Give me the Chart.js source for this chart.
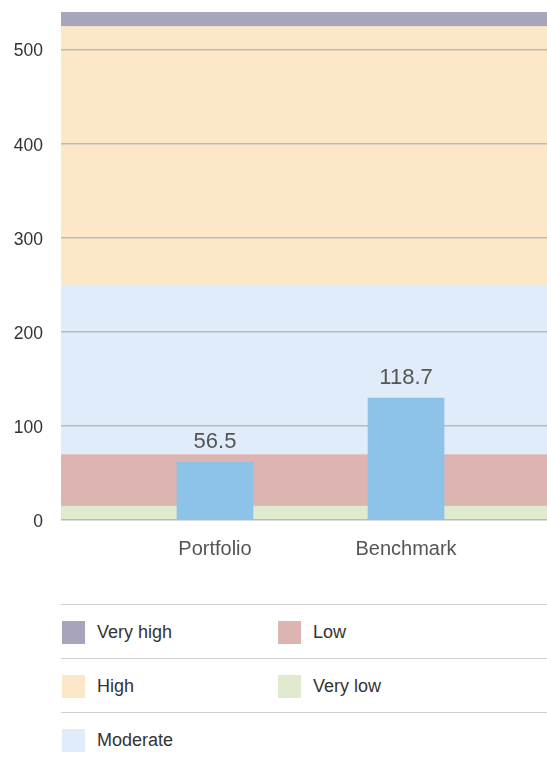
<!DOCTYPE html>
<html>
<head>
<meta charset="utf-8">
<script src="https://cdn.jsdelivr.net/npm/chart.js@4"></script>
<style>
    html, body { margin: 0; padding: 0; background: #fff; }
    body { width: 547px; height: 758px; position: relative; overflow: hidden; font-family: 'Liberation Sans', Arial, sans-serif; }
    #chart { position: absolute; left: 0; top: 0; }
    #legend { position: absolute; left: 61px; top: 604px; width: 486px; }
    .legend-row { height: 54px; border-top: 1.5px solid #cfcfcf; box-sizing: border-box; position: relative; }
    .legend-item { position: absolute; top: 16px; display: flex; align-items: center; height: 23px; font-size: 18px; color: #333; }
    .legend-swatch { width: 23px; height: 23px; margin-right: 12px; }
</style>
</head>
<body>
<canvas id="chart" width="547" height="580"></canvas>
<div id="legend"></div>
<script>
const categories = ['Portfolio', 'Benchmark'];
const scoreValues = [56.5, 118.7];

const bandNames = ['Very low', 'Low', 'Moderate', 'High', 'Very high'];
const bandFrom = [0, 15, 70, 250, 525];
const bandTo = [15, 70, 250, 525, 540];
const bandColors = ['#dfeacf', '#dcb4b2', '#e0ecfa', '#fde7c9', '#a8a4bb'];

const BAR_COLOR = '#8ec3e9';
const GRID_COLOR = '#b9b9b9';

// risk bands sit behind the grid and the bars
const bandPlugin = {
    id: 'riskBands',
    beforeDraw(chart) {
        const { ctx, chartArea, scales } = chart;
        ctx.save();
        bandNames.forEach((name, i) => {
            const top = scales.y.getPixelForValue(bandTo[i]);
            const bottom = scales.y.getPixelForValue(bandFrom[i]);
            ctx.fillStyle = bandColors[i];
            ctx.fillRect(chartArea.left, top, chartArea.right - chartArea.left, bottom - top);
        });
        ctx.restore();
    }
};

const valueLabelPlugin = {
    id: 'valueLabels',
    afterDatasetsDraw(chart) {
        const { ctx } = chart;
        const meta = chart.getDatasetMeta(0);
        ctx.save();
        ctx.font = '22px "Liberation Sans", Arial, sans-serif';
        ctx.fillStyle = '#555';
        ctx.textAlign = 'center';
        ctx.textBaseline = 'alphabetic';
        meta.data.forEach((bar, i) => {
            ctx.fillText(scoreValues[i].toFixed(1), bar.x, bar.y - 14);
        });
        ctx.restore();
    }
};

new Chart(document.getElementById('chart'), {
    type: 'bar',
    data: {
        datasets: [{
            label: 'Score',
            data: categories.map((name, i) => ({ x: i, y: scoreValues[i] })),
            backgroundColor: BAR_COLOR,
            borderWidth: 0,
            barThickness: 76,
            yAxisID: 'yBar'
        }]
    },
    options: {
        responsive: false,
        animation: false,
        events: [],
        layout: { padding: { top: 12, left: 0, right: 0, bottom: 0 } },
        plugins: {
            legend: { display: false },
            tooltip: { enabled: false }
        },
        scales: {
            x: {
                type: 'linear',
                offset: false,
                min: -0.806,
                max: 1.738,
                grid: { display: false, drawTicks: false, offset: false },
                border: { display: false },
                afterBuildTicks: (scale) => {
                    scale.ticks = categories.map((name, i) => ({ value: i }));
                },
                afterFit: (scale) => { scale.height = 60; },
                ticks: {
                    padding: 17,
                    maxRotation: 0,
                    autoSkip: false,
                    color: '#555',
                    font: { family: '"Liberation Sans", Arial, sans-serif', size: 20 },
                    callback: (value) => categories[value] ?? ''
                }
            },
            y: {
                min: 0,
                max: 540,
                grid: { color: GRID_COLOR, lineWidth: 1.5, drawTicks: true, tickLength: 18, tickColor: 'rgba(0,0,0,0)' },
                border: { display: false },
                afterFit: (scale) => { scale.width = 61; },
                ticks: {
                    stepSize: 100,
                    includeBounds: false,
                    padding: 0,
                    labelOffset: 2,
                    color: '#333',
                    font: { family: '"Liberation Sans", Arial, sans-serif', size: 17.5 }
                }
            },
            yBar: {
                display: false,
                min: 0,
                max: 495
            }
        }
    },
    plugins: [bandPlugin, valueLabelPlugin]
});

// legend: bands from highest to lowest, filled column by column
const legendOrder = bandNames.map((name, i) => i).reverse();
const legendRows = 3;
const legendEl = document.getElementById('legend');
for (let r = 0; r < legendRows; r++) {
    const row = document.createElement('div');
    row.className = 'legend-row';
    [legendOrder[r], legendOrder[r + legendRows]].forEach((bandIdx, col) => {
        if (bandIdx === undefined) return;
        const item = document.createElement('div');
        item.className = 'legend-item';
        item.style.left = (col === 0 ? 1 : 217) + 'px';
        item.innerHTML = `<span class="legend-swatch" style="background:${bandColors[bandIdx]}"></span>${bandNames[bandIdx]}`;
        row.appendChild(item);
    });
    legendEl.appendChild(row);
}
</script>
</body>
</html>
